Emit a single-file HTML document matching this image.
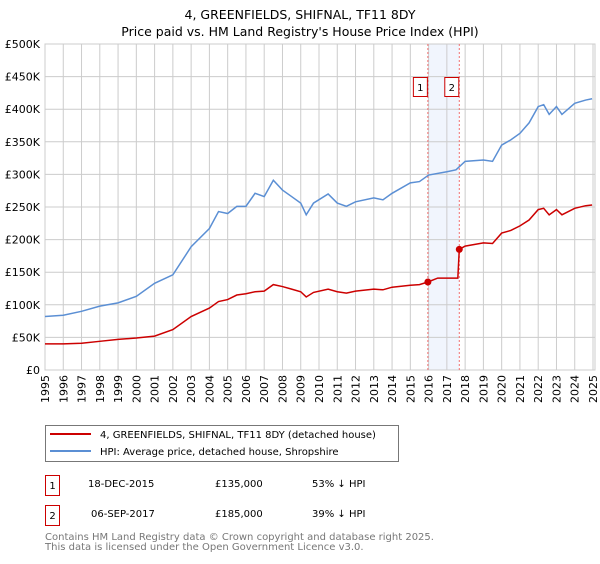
<!DOCTYPE html>
<html><head><meta charset="utf-8"><style>
body{margin:0;background:#fff;width:600px;height:560px;overflow:hidden;font-family:"DejaVu Sans","Liberation Sans",sans-serif}
svg text{font-family:"DejaVu Sans","Liberation Sans",sans-serif}
</style></head><body>
<svg id="chart" width="600" height="560" xmlns="http://www.w3.org/2000/svg">
<text x="300" y="19" text-anchor="middle" font-size="12.5">4, GREENFIELDS, SHIFNAL, TF11 8DY</text>
<text x="300" y="36" text-anchor="middle" font-size="12.5">Price paid vs. HM Land Registry's House Price Index (HPI)</text>
<g id="grid"></g><g id="marks"></g>
<g>
<rect x="45.5" y="425.5" width="353" height="36" fill="#fff" stroke="#777"/>
<line x1="50" y1="434" x2="91" y2="434" stroke="#cc0000" stroke-width="2"/>
<text x="100" y="438" font-size="10">4, GREENFIELDS, SHIFNAL, TF11 8DY (detached house)</text>
<line x1="50" y1="451" x2="91" y2="451" stroke="#5b8fd4" stroke-width="2"/>
<text x="100" y="455" font-size="10">HPI: Average price, detached house, Shropshire</text>
</g>
<g font-size="10">
<rect x="45.5" y="475.5" width="14" height="20" fill="#fff" stroke="#cc0000"/><text x="52.5" y="489" text-anchor="middle">1</text>
<text x="88" y="487">18-DEC-2015</text><text x="215" y="487">£135,000</text><text x="312" y="487">53% ↓ HPI</text>
<rect x="45.5" y="505.5" width="14" height="20" fill="#fff" stroke="#cc0000"/><text x="52.5" y="519" text-anchor="middle">2</text>
<text x="91" y="517">06-SEP-2017</text><text x="215" y="517">£185,000</text><text x="312" y="517">39% ↓ HPI</text>
</g>
<text x="45" y="540" font-size="10" fill="#777">Contains HM Land Registry data © Crown copyright and database right 2025.</text>
<text x="45" y="550" font-size="10" fill="#777">This data is licensed under the Open Government Licence v3.0.</text>
</svg>
<script>
const hpiYears=[1995,1996,1997,1998,1999,2000,2001,2002,2003,2004,2004.5,2005,2005.5,2006,2006.5,2007,2007.5,2008,2008.5,2009,2009.3,2009.7,2010.5,2011,2011.5,2012,2013,2013.5,2014,2015,2015.5,2016,2017,2017.5,2018,2019,2019.5,2020,2020.5,2021,2021.5,2022,2022.3,2022.6,2023,2023.3,2024,2024.6,2024.95];
const hpiValues=[82,84,90,98,103,113,133,146,189,217,243,240,251,251,271,266,291,276,266,256,238,256,270,256,251,258,264,261,271,287,289,299,304,307,320,322,320,345,353,363,379,404,407,392,404,392,409,414,416];
const paidYears=[1995,1996,1997,1998,1999,2000,2001,2002,2003,2004,2004.5,2005,2005.5,2006,2006.5,2007,2007.5,2008,2008.5,2009,2009.3,2009.7,2010.5,2011,2011.5,2012,2013,2013.5,2014,2015,2015.5,2015.96,2016.5,2017.6,2017.68,2018,2019,2019.5,2020,2020.5,2021,2021.5,2022,2022.3,2022.6,2023,2023.3,2024,2024.6,2024.95];
const paidValues=[40,40,41,44,47,49,52,62,82,95,105,108,115,117,120,121,131,128,124,120,112,119,124,120,118,121,124,123,127,130,131,135,141,141,185,190,195,194,210,214,221,230,246,248,238,246,238,248,252,253];
const saleYears=[2015.96,2017.68];
const saleValues=[135,185];
const saleLabels=["1","2"];
const yTicks=[0,50,100,150,200,250,300,350,400,450,500];
const yTickLabels=["£0","£50K","£100K","£150K","£200K","£250K","£300K","£350K","£400K","£450K","£500K"];
const xTicks=[1995,1996,1997,1998,1999,2000,2001,2002,2003,2004,2005,2006,2007,2008,2009,2010,2011,2012,2013,2014,2015,2016,2017,2018,2019,2020,2021,2022,2023,2024,2025];
const X0=45,X1=593,Y0=370,Y1=44;
const sx=y=>X0+(y-1995)/30*(X1-X0);
const sy=v=>Y0-v/500*(Y0-Y1);
const NS="http://www.w3.org/2000/svg";
const grid=document.getElementById('grid'),marks=document.getElementById('marks');
function mk(tag,attrs,parent){const e=document.createElementNS(NS,tag);for(const k in attrs)e.setAttribute(k,attrs[k]);parent.appendChild(e);return e;}
const bg=mk('rect',{x:X0,y:Y1,width:X1-X0+2,height:Y0-Y1,fill:'#fff',stroke:'#ccc'},grid);


const band=mk('rect',{x:sx(saleYears[0]),y:Y1,width:sx(saleYears[1])-sx(saleYears[0]),height:Y0-Y1,fill:'#eef3fc',opacity:0.8},grid);


yTicks.forEach((t,i)=>{
 const l=mk('line',{x1:X0,x2:X1+2,y1:sy(t),y2:sy(t),stroke:'#ccc'},grid);
 
 
 const tx=mk('text',{x:40,y:sy(t)+4,'text-anchor':'end','font-size':'11'},grid);
 tx.textContent=yTickLabels[i];
 
 
});
xTicks.forEach(t=>{
 const l=mk('line',{x1:sx(t),x2:sx(t),y1:Y1,y2:Y0,stroke:'#ccc'},grid);
 
 
 const tx=mk('text',{x:0,y:0,'text-anchor':'end','font-size':'11',transform:`translate(${sx(t)+4},375) rotate(-90)`},grid);
 tx.textContent=t;
 
 
});
saleYears.forEach((y,i)=>{
 const l=mk('line',{x1:sx(y),x2:sx(y),y1:Y1,y2:Y0,stroke:'#f07070','stroke-dasharray':'2,2'},marks);
 
 
 const r=mk('rect',{x:sx(y)-14.5,y:77.5,width:14,height:19,fill:'#fff',stroke:'#cc0000'},marks);
 
 
 const tx=mk('text',{x:sx(y)-7.5,y:91,'text-anchor':'middle','font-size':'10'},marks);
 tx.textContent=saleLabels[i];
 
 
});
const hp=mk('polyline',{points:hpiYears.map((y,i)=>sx(y)+','+sy(hpiValues[i])).join(' '),fill:'none',stroke:'#5b8fd4','stroke-width':1.5},marks);


const pp=mk('polyline',{points:paidYears.map((y,i)=>sx(y)+','+sy(paidValues[i])).join(' '),fill:'none',stroke:'#cc0000','stroke-width':1.5},marks);


saleYears.forEach((y,i)=>{
 const c=mk('circle',{cx:sx(y),cy:sy(saleValues[i]),r:3.5,fill:'#cc0000'},marks);
 
 
});
</script>
</body></html>
